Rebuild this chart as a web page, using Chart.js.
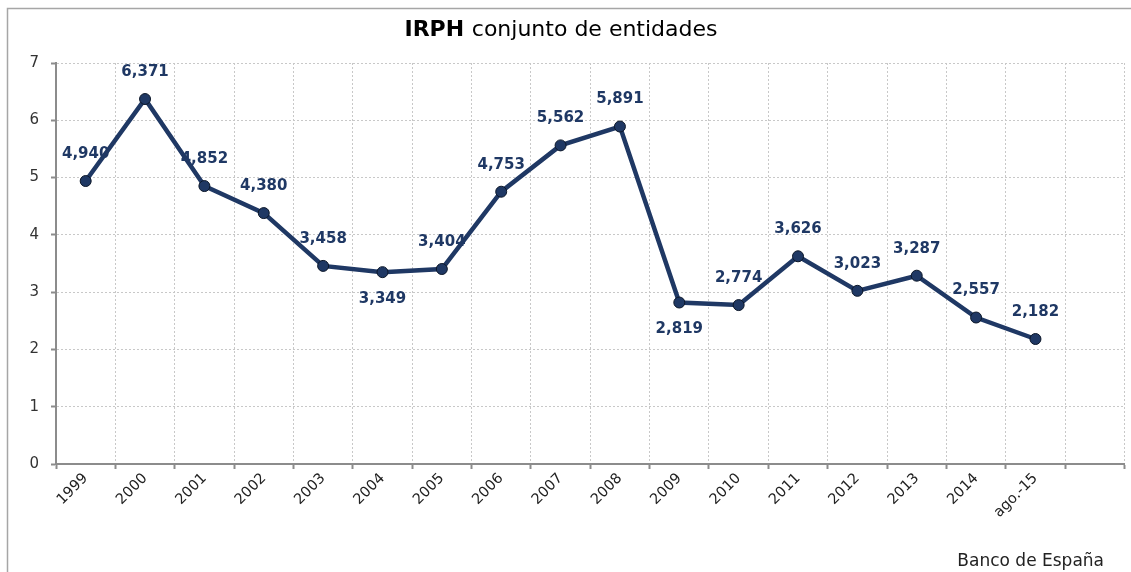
<!DOCTYPE html>
<html>
<head>
<meta charset="utf-8">
<script src="https://cdn.jsdelivr.net/npm/chart.js@4"></script>
<style>
  html, body { margin: 0; padding: 0; background: #fff; }
  #wrap { width: 1131px; height: 572px; position: relative; }
</style>
</head>
<body>
<div id="wrap"><canvas id="myChart" width="1131" height="572"></canvas></div>
<script>
Chart.defaults.font.family = 'DejaVu Sans';

// categories (last slot is empty, as in the original sheet)
const years = ['1999', '2000', '2001', '2002', '2003', '2004', '2005', '2006', '2007',
    '2008', '2009', '2010', '2011', '2012', '2013', '2014', 'ago.-15', ''];
// IRPH conjunto de entidades, %
const irph = [4.940, 6.371, 4.852, 4.380, 3.458, 3.349, 3.404, 4.753, 5.562,
    5.891, 2.819, 2.774, 3.626, 3.023, 3.287, 2.557, 2.182, null];
// where each value label sits relative to its point
const labelSide = ['up', 'up', 'up', 'up', 'up', 'down', 'up', 'up', 'up',
    'up', 'down', 'up', 'up', 'up', 'up', 'up', 'up', 'up'];
const yTicks = [0, 1, 2, 3, 4, 5, 6, 7];

const navy = '#1f3864';

// frame, title and source note
const decorations = {
    id: 'decorations',
    beforeDraw(chart) {
        const ctx = chart.ctx;
        ctx.save();
        ctx.strokeStyle = '#a6a6a6';
        ctx.lineWidth = 1.5;
        ctx.beginPath();
        ctx.moveTo(7.5, 572);
        ctx.lineTo(7.5, 8.5);
        ctx.lineTo(1131, 8.5);
        ctx.stroke();
        ctx.restore();
    },
    afterDraw(chart) {
        const ctx = chart.ctx;
        ctx.save();
        ctx.fillStyle = '#000';
        ctx.textBaseline = 'middle';
        const boldTxt = 'IRPH ';
        const normTxt = 'conjunto de entidades';
        ctx.font = 'bold 22px "DejaVu Sans"';
        const w1 = ctx.measureText(boldTxt).width;
        ctx.font = '22px "DejaVu Sans"';
        const w2 = ctx.measureText(normTxt).width;
        let x = 561 - (w1 + w2) / 2;
        ctx.textAlign = 'left';
        ctx.font = 'bold 22px "DejaVu Sans"';
        ctx.fillText(boldTxt, x, 30);
        ctx.font = '22px "DejaVu Sans"';
        ctx.fillText(normTxt, x + w1, 30);

        ctx.font = '17px "DejaVu Sans"';
        ctx.textAlign = 'right';
        ctx.fillStyle = '#222';
        ctx.fillText('Banco de España', 1104, 562);
        ctx.restore();
    }
};

// value labels above / below the points
const valueLabels = {
    id: 'valueLabels',
    afterDatasetsDraw(chart) {
        const ctx = chart.ctx;
        const meta = chart.getDatasetMeta(0);
        ctx.save();
        ctx.font = 'bold 15px "DejaVu Sans"';
        ctx.fillStyle = navy;
        ctx.textAlign = 'center';
        ctx.textBaseline = 'middle';
        meta.data.forEach((pt, i) => {
            const v = irph[i];
            if (v === null || v === undefined) return;
            const dy = labelSide[i] === 'down' ? 27 : -27;
            ctx.fillText(v.toFixed(3).replace('.', ','), pt.x, pt.y + dy);
        });
        ctx.restore();
    }
};

const ctx = document.getElementById('myChart');

new Chart(ctx, {
    type: 'line',
    data: {
        labels: years,
        datasets: [{
            label: 'IRPH',
            data: irph,
            borderColor: navy,
            borderWidth: 4.5,
            backgroundColor: navy,
            pointRadius: 5.5,
            pointBorderColor: '#0b1628',
            pointBorderWidth: 1,
            tension: 0,
            spanGaps: false
        }]
    },
    options: {
        responsive: false,
        animation: false,
        layout: {
            padding: { left: 0, right: 5, top: 63, bottom: 0 }
        },
        scales: {
            x: {
                type: 'category',
                offset: true,
                grid: {
                    offset: true,
                    color: '#c8c8c8',
                    lineWidth: 1,
                    tickColor: '#8c8c8c',
                    tickWidth: 2,
                    tickBorderDash: [],
                    tickLength: 5
                },
                border: { display: true, color: '#8c8c8c', width: 2, dash: [2, 2] },
                ticks: {
                    autoSkip: false,
                    minRotation: 45,
                    maxRotation: 45,
                    color: '#222',
                    padding: 1,
                    font: { size: 14.5 }
                },
                afterFit(scale) {
                    scale.height = 108;
                }
            },
            y: {
                min: 0,
                max: 7,
                afterBuildTicks(scale) {
                    scale.ticks = yTicks.map(v => ({ value: v }));
                },
                grid: {
                    color: '#c8c8c8',
                    lineWidth: 1,
                    tickColor: '#8c8c8c',
                    tickWidth: 2,
                    tickBorderDash: [],
                    tickLength: 5
                },
                border: { display: true, color: '#8c8c8c', width: 2, dash: [2, 2] },
                ticks: {
                    color: '#333',
                    padding: 12,
                    font: { size: 15 }
                },
                afterFit(scale) {
                    scale.width = 56;
                }
            }
        },
        plugins: {
            legend: { display: false },
            title: { display: false },
            tooltip: { enabled: false }
        }
    },
    plugins: [decorations, valueLabels]
});
</script>
</body>
</html>
